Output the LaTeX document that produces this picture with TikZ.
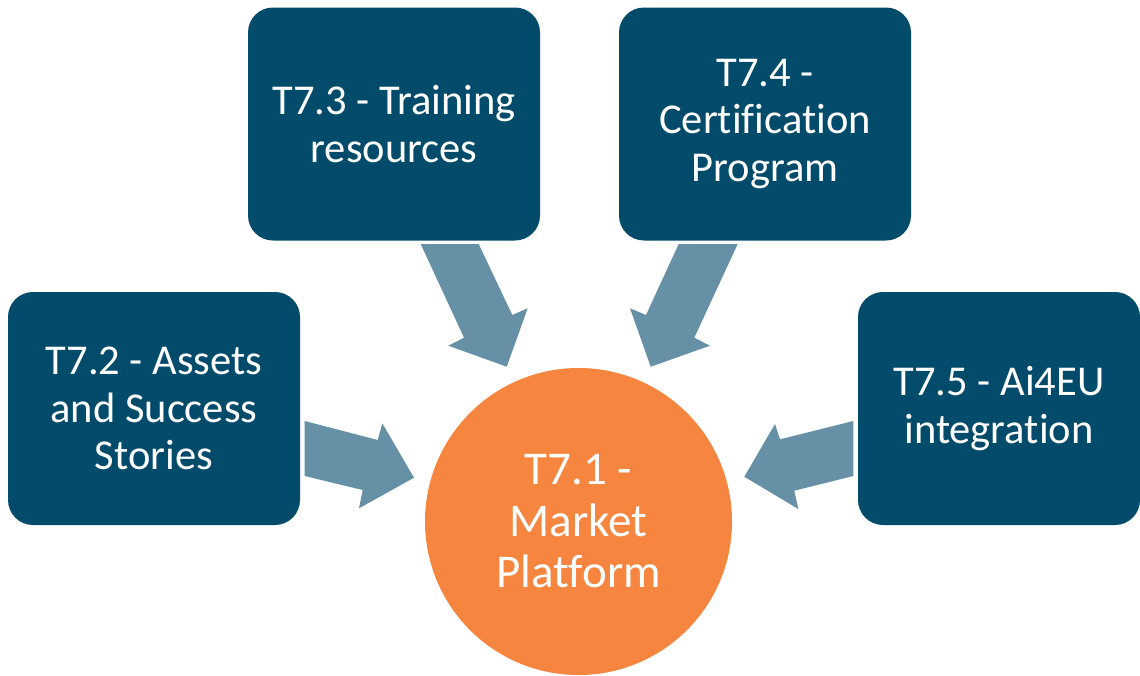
\documentclass[tikz,border=0pt]{standalone}
\usepackage{fontspec}
\setmainfont{Carlito}[Ligatures=NoCommon]
\definecolor{boxblue}{HTML}{034B6B}
\definecolor{arrowblue}{HTML}{6590A6}
\definecolor{centreorange}{HTML}{F5853F}
\begin{document}
\begin{tikzpicture}[x=1pt,y=-1pt,
  taskbox/.style={rectangle, fill=boxblue, rounded corners=25pt, inner sep=0pt,
    minimum width=292pt, minimum height=233pt, text=white,
    font=\fontsize{42.5}{47.5}\selectfont, align=center},
  centrenode/.style={circle, fill=centreorange, inner sep=0pt, minimum size=307pt,
    text=white, font=\fontsize{47}{51.5}\selectfont, align=center},
  blockarrow/.style={fill=arrowblue}]
\useasboundingbox (0,0) rectangle (1140,675);
\node[taskbox] (t73) at (394,124) {T7.3 - Training\\resources};
\node[taskbox] (t74) at (765,124) {T7.4 -\\Certification\\Program};
\node[taskbox] (t72) at (154,408.5) {T7.2 - Assets\\and Success\\Stories};
\node[taskbox, minimum width=282pt] (t75) at (999,408.5) {T7.5 - Ai4EU\\integration};
\node[centrenode] (t71) at (578.5,521.5) {T7.1 -\\Market\\Platform};
% block arrows
\fill[blockarrow] (304.7,421) -- (377.7,440) -- (382.3,423.3) -- (414,477.7) -- (359,508.3) -- (362.7,490) -- (304.7,476) -- cycle;
\fill[blockarrow] (420.7,244) -- (478.7,244) -- (512.3,315) -- (527.7,308.3) -- (506.7,366.7) -- (448.3,345.7) -- (464,337.7) -- cycle;
\fill[blockarrow] (678.7,244) -- (737.7,244) -- (694.3,337.7) -- (710,345.7) -- (650.7,366.7) -- (630,308.3) -- (646,315) -- cycle;
\fill[blockarrow] (853.3,421) -- (780,439.3) -- (775,424) -- (744.3,476.7) -- (798.3,509) -- (794.3,490.7) -- (853.3,476) -- cycle;
\end{tikzpicture}
\end{document}
